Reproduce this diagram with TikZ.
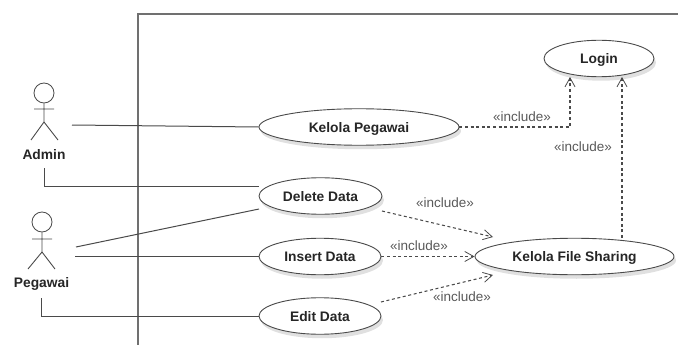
\documentclass[tikz,border=0pt]{standalone}
\usepackage{fontspec}
\setmainfont{Liberation Sans}
\usetikzlibrary{shapes.geometric,arrows.meta,shadows}
\definecolor{ln}{HTML}{4a4a4a}
\definecolor{bnd}{HTML}{707070}
\definecolor{lbl}{HTML}{5a5a5a}
\tikzset{
  x=1pt,y=-1pt,
  usecase/.style={ellipse,draw=ln,line width=0.9pt,fill=white,inner sep=0pt,
    minimum height=36.5pt,text height=11pt,text depth=1pt,font=\bfseries\fontsize{13.8}{15}\selectfont,text=black!85,
    drop shadow={shadow xshift=2pt,shadow yshift=-4pt,fill=black,opacity=0.12}},
  actorhead/.style={circle,draw=ln,line width=0.8pt,minimum size=20pt,inner sep=0pt},
  actorname/.style={font=\bfseries\fontsize{13.8}{15}\selectfont,text=black!85},
  limb/.style={draw=ln,line width=0.9pt},
  assoc/.style={draw=ln,line width=1pt},
  boundary/.style={draw=bnd,line width=1.2pt},
  incl/.style={draw=ln,line width=1.05pt,dash pattern=on 3pt off 2.6pt,-{Straight Barb[length=9pt,width=10pt,line width=0.8pt]}},
  incllabel/.style={font=\fontsize{13.5}{15}\selectfont,text=lbl}
}
\begin{document}
\begin{tikzpicture}
\useasboundingbox (0,0) rectangle (678,345);
\fill[white] (0,0) rectangle (678,345);
\coordinate (bs) at (138,345);
\coordinate (bc) at (138,14);
\coordinate (be) at (678,14);
\draw[boundary] (bs) -- (bc) -- (be);

\node[usecase,minimum width=110pt] (login) at (599,58.5) {Login};
\node[usecase,minimum width=200pt] (kp) at (359,127) {Kelola Pegawai};
\node[usecase,minimum width=123pt] (del) at (320.5,196) {Delete Data};
\node[usecase,minimum width=122pt] (ins) at (320,256.5) {Insert Data};
\node[usecase,minimum width=122pt] (edit) at (320,316) {Edit Data};
\node[usecase,minimum width=199pt] (kfs) at (574.5,256.5) {Kelola File Sharing};

% Admin
\node[actorhead] (ah) at (44,93) {};
\coordinate (ahip) at (44,122);
\coordinate (aal) at (34,109);
\coordinate (aar) at (54,109);
\coordinate (all) at (31,140);
\coordinate (alr) at (58,140);
\draw[limb] (ah) -- (ahip) (aal) -- (aar) (all) -- (ahip) -- (alr);
\node[actorname] (aname) at (44,155) {Admin};
% Pegawai
\node[actorhead] (ph) at (42,222) {};
\coordinate (phip) at (42,252);
\coordinate (pal) at (32,239);
\coordinate (par) at (52,239);
\coordinate (pll) at (28,269);
\coordinate (plr) at (55,269);
\draw[limb] (ph) -- (phip) (pal) -- (par) (pll) -- (phip) -- (plr);
\node[actorname] (pname) at (41.5,284) {Pegawai};

% associations
\coordinate (a1) at (72,125);
\draw[assoc] (a1) -- (kp.west);
\coordinate (a2) at (44,168);
\coordinate (a2c) at (44,186);
\coordinate (a2e) at (259,186);
\draw[assoc] (a2) -- (a2c) -- (a2e);
\coordinate (p1) at (76,247);
\coordinate (p1e) at (259,209);
\draw[assoc] (p1) -- (p1e);
\coordinate (p2) at (75,256.5);
\draw[assoc] (p2) -- (ins.west);
\coordinate (p3) at (41,298);
\coordinate (p3c) at (41,316);
\draw[assoc] (p3) -- (p3c) -- (edit.west);

% includes
\coordinate (kpc) at (570,127);
\coordinate (lg1) at (570,77);
\draw[incl] (kp.east) -- (kpc) -- (lg1);
\coordinate (k1) at (622,238);
\coordinate (lg2) at (622,77);
\draw[incl] (k1) -- (lg2);
\coordinate (d1) at (382,211);
\coordinate (d2) at (493,237);
\draw[incl] (d1) -- (d2);
\draw[incl] (ins.east) -- (kfs.west);
\coordinate (e1) at (381,302);
\coordinate (e2) at (493,275);
\draw[incl] (e1) -- (e2);

\node[incllabel] (l1) at (522,117) {«include»};
\node[incllabel] (l2) at (583,147) {«include»};
\node[incllabel] (l3) at (445,203) {«include»};
\node[incllabel] (l4) at (419,245.5) {«include»};
\node[incllabel] (l5) at (462,297) {«include»};
\end{tikzpicture}
\end{document}
